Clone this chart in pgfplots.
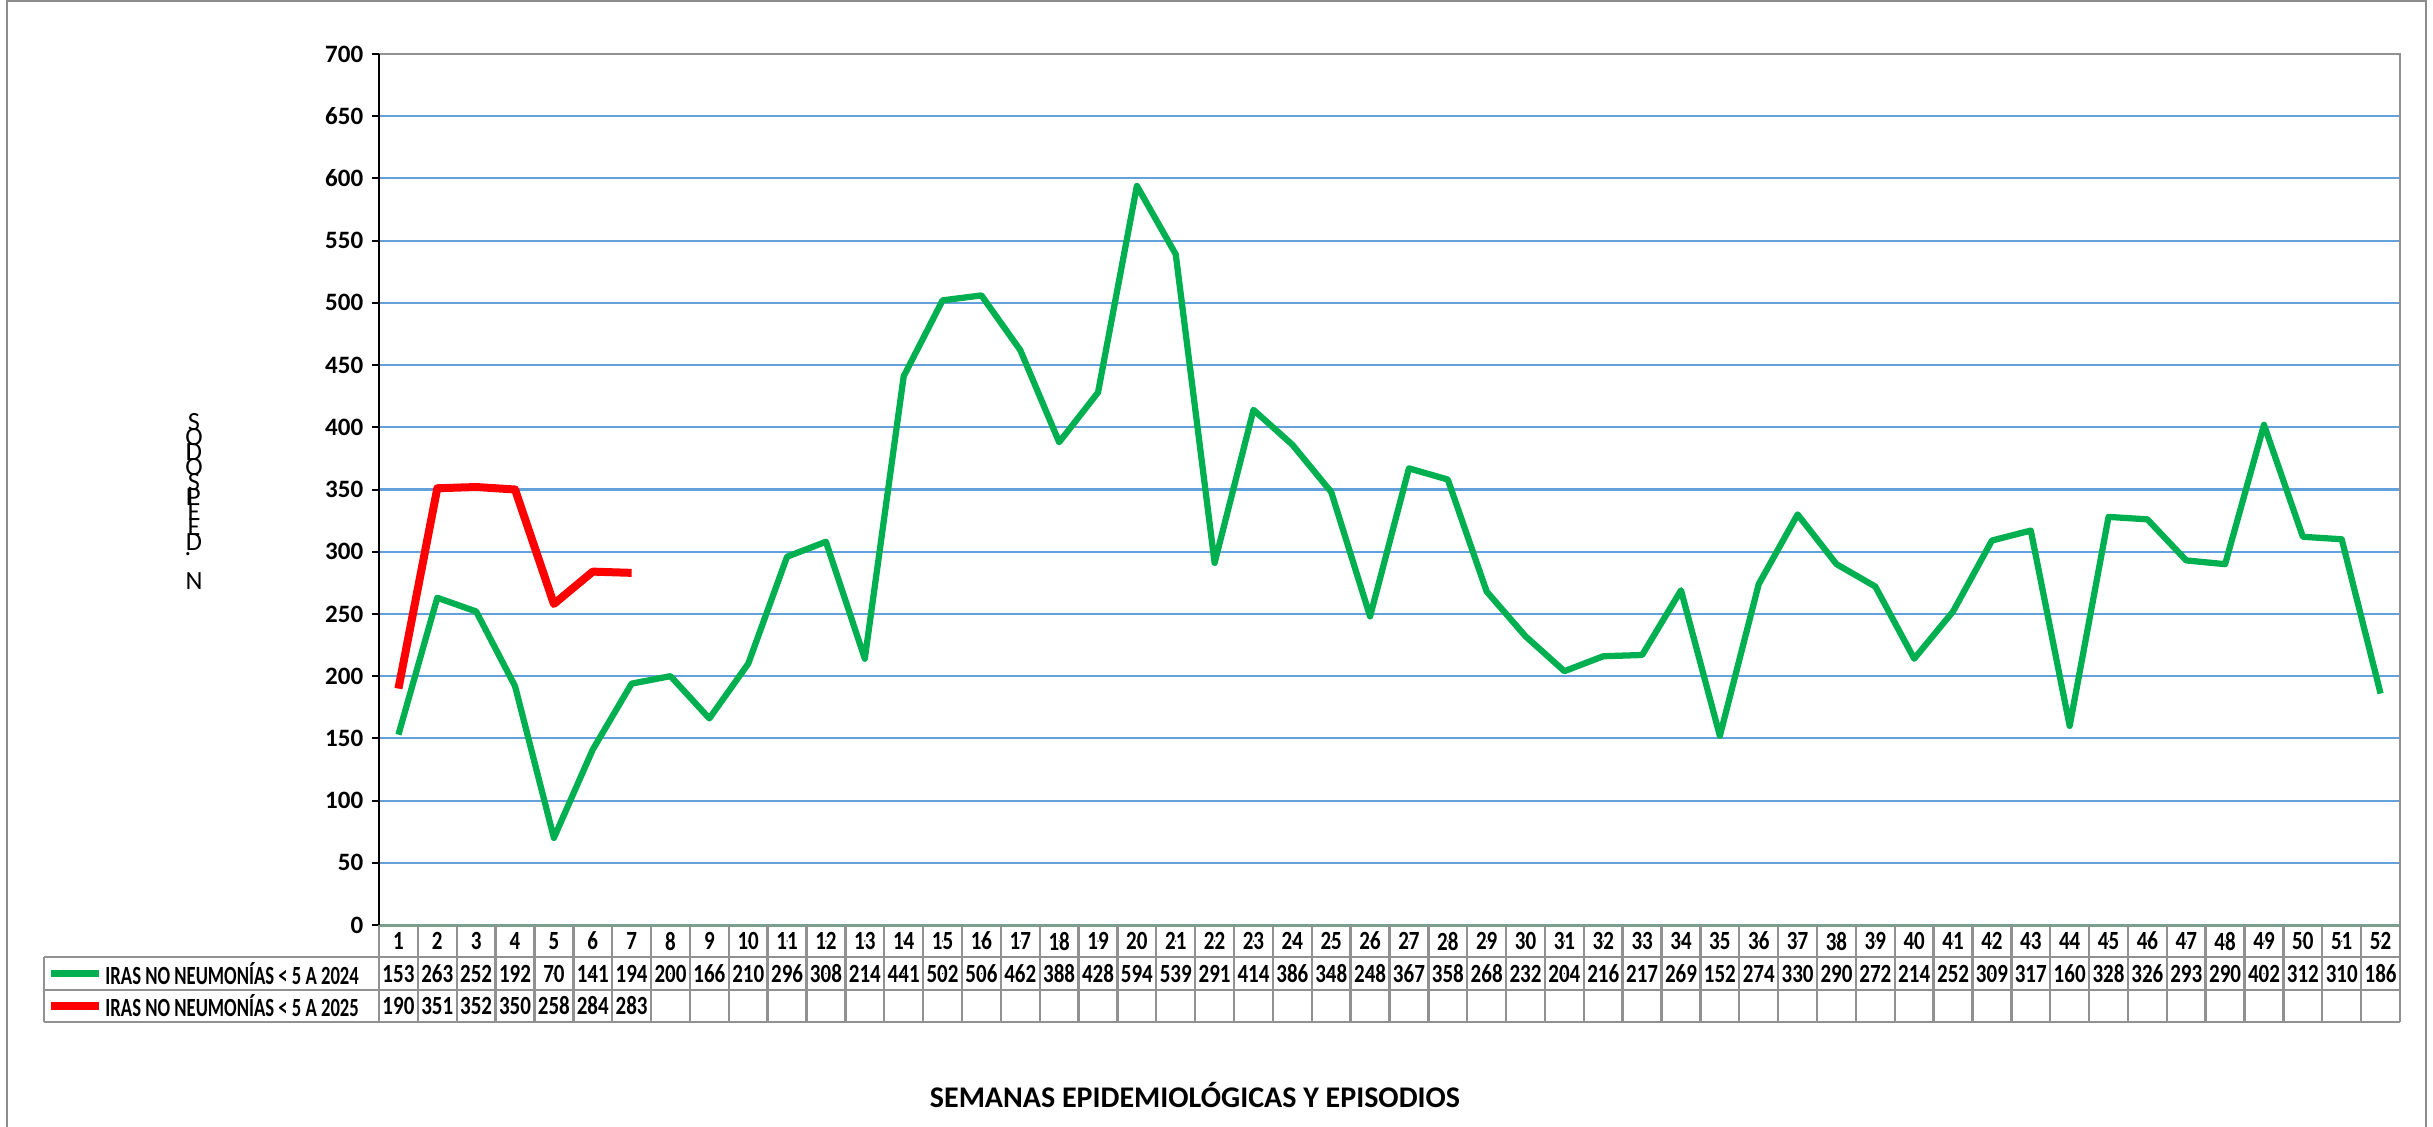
\documentclass[border=0pt]{standalone}
\usepackage{pgfplots}
\pgfplotsset{compat=1.18}
\usepackage{pgfplotstable}
\usepackage{fontspec}
\setmainfont{Carlito}

\definecolor{sgreen}{RGB}{0,176,80}
\definecolor{sred}{RGB}{255,0,0}
\definecolor{gridblue}{RGB}{100,160,218}
\definecolor{gridgray}{RGB}{145,145,145}
\definecolor{axisgreen}{RGB}{120,160,140}
\definecolor{bordergray}{RGB}{140,140,140}

\pgfplotstableread{
week v
1 153
2 263
3 252
4 192
5 70
6 141
7 194
8 200
9 166
10 210
11 296
12 308
13 214
14 441
15 502
16 506
17 462
18 388
19 428
20 594
21 539
22 291
23 414
24 386
25 348
26 248
27 367
28 358
29 268
30 232
31 204
32 216
33 217
34 269
35 152
36 274
37 330
38 290
39 272
40 214
41 252
42 309
43 317
44 160
45 328
46 326
47 293
48 290
49 402
50 312
51 310
52 186
}\dataA

\pgfplotstableread{
week v
1 190
2 351
3 352
4 350
5 258
6 284
7 283
}\dataB

\newcommand{\tabfont}{\fontsize{10.5}{11}\selectfont\bfseries}
\newcommand{\lblfont}{\fontsize{10.5}{11}\selectfont}

\begin{document}
\begin{tikzpicture}[font=\bfseries]
\path[use as bounding box] (0,0) rectangle (973.2pt,450.4pt);
\begin{axis}[
  at={(151.6pt,80.4pt)}, anchor=south west,
  scale only axis, width=808.4pt, height=348.4pt,
  xmin=0.5, xmax=52.5, ymin=0, ymax=700,
  clip=false,
  ytick={0,50,...,700},
  xtick=\empty,
  minor xtick={1.5,2.5,...,51.5},
  xminorgrids, minor x grid style={gridgray, line width=0.95pt},
  ymajorgrids, major y grid style={gridblue, line width=0.85pt},
  axis line style={draw=none},
  tick align=outside, ytick pos=left,
  major tick length=2.8pt,
  ytick style={black, line width=0.8pt},
  /pgf/number format/assume math mode=true,
  yticklabel style={font=\fontsize{10}{11}\selectfont\bfseries},
]
% borders
\draw[gridgray, line width=1pt] (axis cs:0.5,700) -- (axis cs:52.5,700) -- (axis cs:52.5,0);
\draw[axisgreen, line width=1.2pt] (axis cs:0.5,0) -- (axis cs:52.5,0);
\draw[black, line width=0.9pt] (axis cs:0.5,0) -- (axis cs:0.5,700);

\addplot[sgreen, line width=2.5pt, line join=round, mark=none] table[x=week, y=v] {\dataA};
\addplot[sred, line width=3.2pt, line join=round, mark=none] table[x=week, y=v] {\dataB};

% data table rows
\addplot[only marks, mark=*, mark size=0.01pt, mark options={draw=none, fill=none},
  nodes near coords={\scalebox{0.8}[1]{\pgfplotspointmeta}}, point meta=explicit symbolic,
  nodes near coords style={anchor=center, inner sep=0pt, font=\tabfont}]
  table[x=week, y expr=-12.9, meta=week] {\dataA};
\addplot[only marks, mark=*, mark size=0.01pt, mark options={draw=none, fill=none},
  nodes near coords={\scalebox{0.8}[1]{\pgfplotspointmeta}}, point meta=explicit symbolic,
  nodes near coords style={anchor=center, inner sep=0pt, font=\tabfont}]
  table[x=week, y expr=-39.0, meta=v] {\dataA};
\addplot[only marks, mark=*, mark size=0.01pt, mark options={draw=none, fill=none},
  nodes near coords={\scalebox{0.8}[1]{\pgfplotspointmeta}}, point meta=explicit symbolic,
  nodes near coords style={anchor=center, inner sep=0pt, font=\tabfont}]
  table[x=week, y expr=-65.1, meta=v] {\dataB};
\end{axis}

\begin{scope}[shift={(0pt,450.4pt)}, x=0.4pt, y=-0.4pt]
  % outer chart border
  \draw[bordergray, line width=0.9pt] (7,1130) -- (7,1) -- (2426,1) -- (2426,1130);
  % table grid
  \draw[gridgray, line width=0.9pt] (44,957) -- (2400,957);
  \draw[gridgray, line width=0.9pt] (44,990) -- (2400,990);
  \draw[gridgray, line width=1pt] (44,1022) -- (2400,1022);
  \draw[gridgray, line width=0.9pt] (44,957) -- (44,1022);
  \draw[gridgray, line width=0.9pt] (379,925) -- (379,1022);
  \foreach \k in {1,...,52} {
    \draw[gridgray, line width=0.95pt] ({379+\k*38.865},925) -- ({379+\k*38.865},1022);
  }
  % legend keys
  \draw[sgreen, line width=2.5pt] (51,973.5) -- (99,973.5);
  \draw[sred, line width=3.2pt] (51,1006) -- (99,1006);
  \node[anchor=west, inner sep=0pt, font=\tabfont] at (105,973.5) {\scalebox{0.71}[1]{IRAS NO NEUMONÍAS < 5 A 2024}};
  \node[anchor=west, inner sep=0pt, font=\tabfont] at (105,1006) {\scalebox{0.71}[1]{IRAS NO NEUMONÍAS < 5 A 2025}};
  % y label (stacked letters, N. DE EPISODIOS)
  \foreach \L/\Y in {S/431, O/446, D/461, O/476, S/491, P/506, E/521, E/536, D/551, N/590} {
    \node[anchor=base, inner sep=0pt, font=\lblfont] at (194,\Y) {\L};
  }
  \node[anchor=base, inner sep=0pt, font=\lblfont] at (189,461) {I};
  \node[anchor=base, inner sep=0pt, font=\lblfont] at (189,506) {I};
  \node[anchor=base, inner sep=0pt, font=\lblfont] at (188,556) {.};
  % x label
  \node[inner sep=0pt, font=\fontsize{12}{13}\selectfont\bfseries] at (1195,1095) {SEMANAS EPIDEMIOLÓGICAS Y EPISODIOS};
\end{scope}
\end{tikzpicture}
\end{document}
